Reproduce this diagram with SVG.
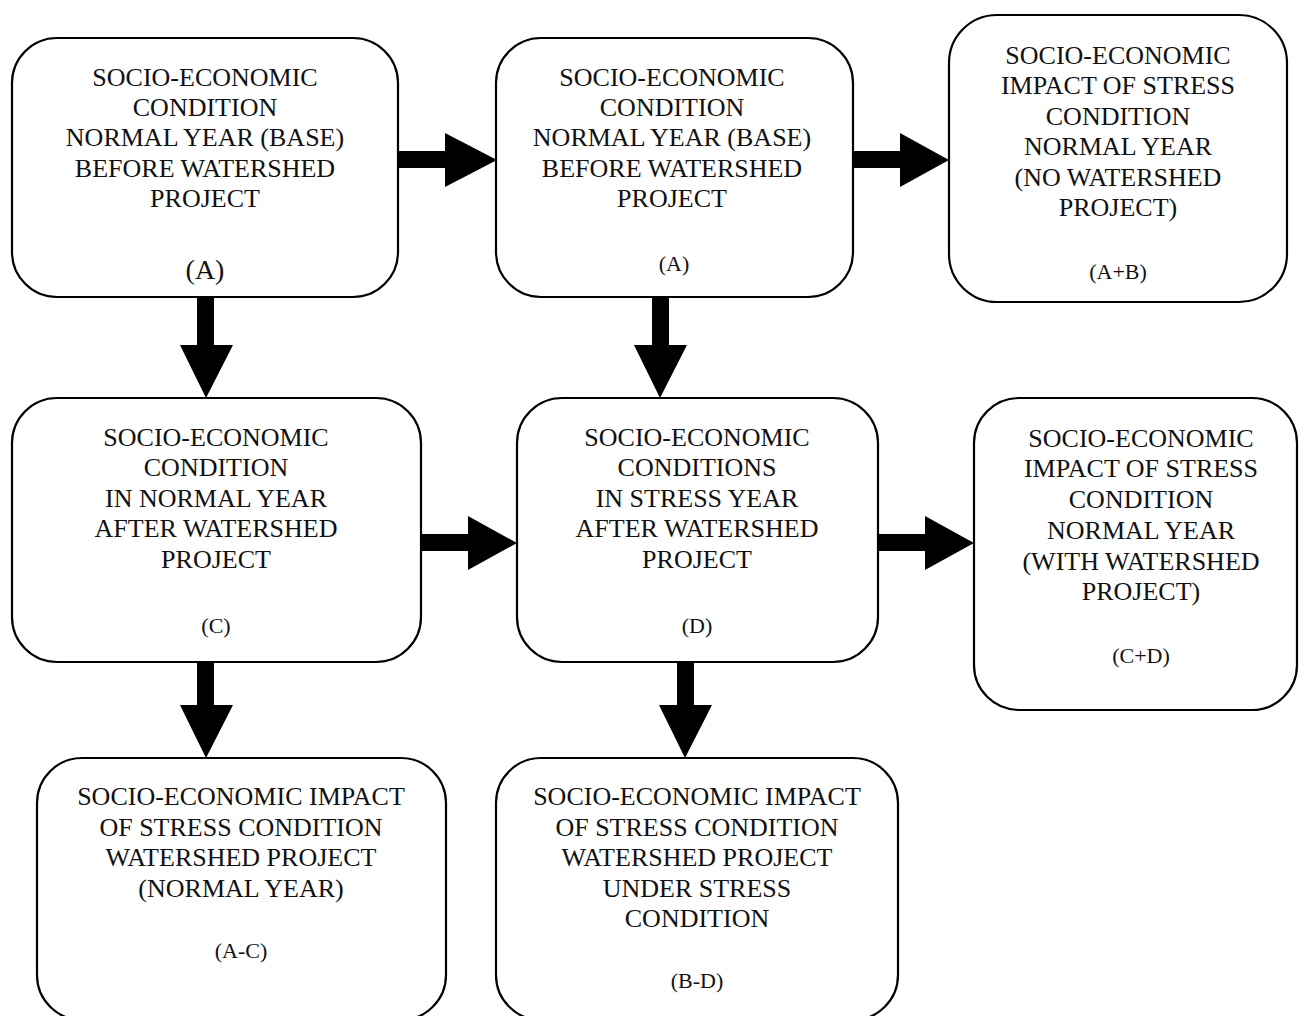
<svg xmlns="http://www.w3.org/2000/svg" width="1299" height="1016" viewBox="0 0 1299 1016">
<style>
.box{fill:#fff;stroke:#000;stroke-width:2.2}
.t{font-family:"Liberation Serif","Times New Roman",serif;font-size:26px;fill:#111;text-anchor:middle}
.s{font-size:22px}
.arr{fill:#000;stroke:none}
</style>
<rect width="1299" height="1016" fill="#fff"/>
<g id="node-A1">
<rect class="box" x="12" y="38" width="386" height="259" rx="45"/>
<text class="t" x="205" y="86">SOCIO-ECONOMIC</text>
<text class="t" x="205" y="116">CONDITION</text>
<text class="t" x="205" y="146">NORMAL YEAR (BASE)</text>
<text class="t" x="205" y="177">BEFORE WATERSHED</text>
<text class="t" x="205" y="207">PROJECT</text>
<text class="t" x="205" y="279" style="font-size:28px">(A)</text>
</g>
<g id="node-A2">
<rect class="box" x="496" y="38" width="357" height="259" rx="45"/>
<text class="t" x="672" y="86">SOCIO-ECONOMIC</text>
<text class="t" x="672" y="116">CONDITION</text>
<text class="t" x="672" y="146">NORMAL YEAR (BASE)</text>
<text class="t" x="672" y="177">BEFORE WATERSHED</text>
<text class="t" x="672" y="207">PROJECT</text>
<text class="t s" x="674" y="271">(A)</text>
</g>
<g id="node-AB">
<rect class="box" x="949" y="15" width="338" height="287" rx="48"/>
<text class="t" x="1118" y="64">SOCIO-ECONOMIC</text>
<text class="t" x="1118" y="94">IMPACT OF STRESS</text>
<text class="t" x="1118" y="125">CONDITION</text>
<text class="t" x="1118" y="155">NORMAL YEAR</text>
<text class="t" x="1118" y="186">(NO WATERSHED</text>
<text class="t" x="1118" y="216">PROJECT)</text>
<text class="t s" x="1118" y="279">(A+B)</text>
</g>
<g id="node-C">
<rect class="box" x="12" y="398" width="409" height="264" rx="45"/>
<text class="t" x="216" y="446">SOCIO-ECONOMIC</text>
<text class="t" x="216" y="476">CONDITION</text>
<text class="t" x="216" y="507">IN NORMAL YEAR</text>
<text class="t" x="216" y="537">AFTER WATERSHED</text>
<text class="t" x="216" y="568">PROJECT</text>
<text class="t s" x="216" y="633">(C)</text>
</g>
<g id="node-D">
<rect class="box" x="517" y="398" width="361" height="264" rx="45"/>
<text class="t" x="697" y="446">SOCIO-ECONOMIC</text>
<text class="t" x="697" y="476">CONDITIONS</text>
<text class="t" x="697" y="507">IN STRESS YEAR</text>
<text class="t" x="697" y="537">AFTER WATERSHED</text>
<text class="t" x="697" y="568">PROJECT</text>
<text class="t s" x="697" y="633">(D)</text>
</g>
<g id="node-CD">
<rect class="box" x="974" y="398" width="323" height="312" rx="45"/>
<text class="t" x="1141" y="447">SOCIO-ECONOMIC</text>
<text class="t" x="1141" y="477">IMPACT OF STRESS</text>
<text class="t" x="1141" y="508">CONDITION</text>
<text class="t" x="1141" y="539">NORMAL YEAR</text>
<text class="t" x="1141" y="570">(WITH WATERSHED</text>
<text class="t" x="1141" y="600">PROJECT)</text>
<text class="t s" x="1141" y="663">(C+D)</text>
</g>
<g id="node-AC">
<rect class="box" x="37" y="758" width="409" height="262" rx="45"/>
<text class="t" x="241" y="805">SOCIO-ECONOMIC IMPACT</text>
<text class="t" x="241" y="836">OF STRESS CONDITION</text>
<text class="t" x="241" y="866">WATERSHED PROJECT</text>
<text class="t" x="241" y="897">(NORMAL YEAR)</text>
<text class="t s" x="241" y="958">(A-C)</text>
</g>
<g id="node-BD">
<rect class="box" x="496" y="758" width="402" height="262" rx="45"/>
<text class="t" x="697" y="805">SOCIO-ECONOMIC IMPACT</text>
<text class="t" x="697" y="836">OF STRESS CONDITION</text>
<text class="t" x="697" y="866">WATERSHED PROJECT</text>
<text class="t" x="697" y="897">UNDER STRESS</text>
<text class="t" x="697" y="927">CONDITION</text>
<text class="t s" x="697" y="988">(B-D)</text>
</g>
<g id="connectors">
<polygon class="arr" points="398,151 445,151 445,133 497,160 445,187 445,168 398,168"/>
<polygon class="arr" points="853,151 900,151 900,133 949,160 900,187 900,168 853,168"/>
<polygon class="arr" points="421,534 468,534 468,516 517,543 468,570 468,551 421,551"/>
<polygon class="arr" points="878,534 925,534 925,516 974,543 925,570 925,551 878,551"/>
<polygon class="arr" points="197,297 214,297 214,345 233,345 206,398 180,345 197,345"/>
<polygon class="arr" points="652,297 669,297 669,345 687,345 660,398 634,345 652,345"/>
<polygon class="arr" points="197,662 214,662 214,705 233,705 206,758 180,705 197,705"/>
<polygon class="arr" points="677,662 694,662 694,705 712,705 685,758 659,705 677,705"/>
</g>
</svg>
